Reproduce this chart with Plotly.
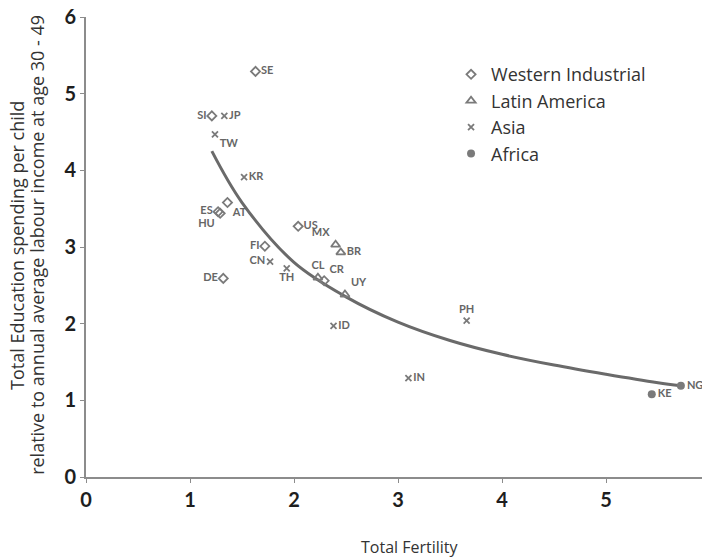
import plotly.graph_objects as go

# ---- data ----
wi_codes = ["SE", "SI", "AT", "ES", "HU", "US", "FI", "DE", "CR"]
wi_x = [1.63, 1.21, 1.36, 1.27, 1.29, 2.04, 1.72, 1.32, 2.29]
wi_y = [5.29, 4.71, 3.58, 3.46, 3.44, 3.27, 3.01, 2.59, 2.56]
wi_pos = ["middle right", "middle left", "bottom right", "middle left", "bottom left",
          "middle right", "middle left", "middle left", "top right"]

la_codes = ["MX", "BR", "CL", "UY"]
la_x = [2.40, 2.45, 2.23, 2.49]
la_y = [3.03, 2.93, 2.60, 2.38]
la_pos = ["top left", "middle right", "top center", "top right"]

as_codes = ["JP", "TW", "KR", "CN", "TH", "ID", "IN", "PH"]
as_x = [1.33, 1.24, 1.52, 1.77, 1.93, 2.38, 3.10, 3.66]
as_y = [4.71, 4.47, 3.91, 2.81, 2.72, 1.97, 1.29, 2.04]
as_pos = ["middle right", "bottom right", "middle right", "middle left", "bottom center",
          "middle right", "middle right", "top center"]

af_codes = ["KE", "NG"]
af_x = [5.44, 5.72]
af_y = [1.08, 1.19]
af_pos = ["middle right", "middle right"]

# trend curve, points
curve_x = [1.21, 1.5, 2.0, 2.5, 3.0, 3.5, 4.0, 4.5, 5.0, 5.5, 5.72]
curve_y = [4.25, 3.58, 2.80, 2.35, 2.02, 1.78, 1.60, 1.46, 1.34, 1.23, 1.19]

x_ticks = [0, 1, 2, 3, 4, 5, 6]
y_ticks = [0, 1, 2, 3, 4, 5, 6]

x_title = "Total Fertility"
y_title_1 = "Total Education spending per child"
y_title_2 = "relative to annual average labour income at age 30 - 49"

MARK = "#7a7a7a"
LBL = "#666666"
lbl_font = dict(family="Lato", size=11, color=LBL, weight="bold")
title_font = dict(family="Open Sans", size=18, color="#333")

fig = go.Figure()
fig.add_trace(go.Scatter(x=curve_x, y=curve_y, mode="lines", line=dict(color="#6a6a6a", width=3, shape="spline"),
                         showlegend=False, hoverinfo="skip"))

fig.add_trace(go.Scatter(x=wi_x, y=wi_y, mode="markers+text", name="Western Industrial",
                         text=wi_codes, textposition=wi_pos, textfont=lbl_font,
                         marker=dict(symbol="diamond-open", size=7, color=MARK, line=dict(width=1.8, color=MARK))))
fig.add_trace(go.Scatter(x=la_x, y=la_y, mode="markers+text", name="Latin America",
                         text=la_codes, textposition=la_pos, textfont=lbl_font,
                         marker=dict(symbol="triangle-up-open", size=8, color=MARK, line=dict(width=1.8, color=MARK))))
fig.add_trace(go.Scatter(x=as_x, y=as_y, mode="markers+text", name="Asia",
                         text=as_codes, textposition=as_pos, textfont=lbl_font,
                         marker=dict(symbol="x-thin-open", size=6, color=MARK, line=dict(width=1.8, color=MARK))))
fig.add_trace(go.Scatter(x=af_x, y=af_y, mode="markers+text", name="Africa",
                         text=af_codes, textposition=af_pos, textfont=lbl_font,
                         marker=dict(symbol="circle", size=8, color=MARK)))

axis_common = dict(showgrid=False, zeroline=False, showline=True, linecolor="#8c8c8c", linewidth=2,
                   ticks="outside", ticklen=4, tickcolor="#8c8c8c", automargin=False,
                   ticklabeloverflow="allow",
                   tickfont=dict(family="Lato", size=20, color="#1e1e1e", weight="bold"))

fig.update_layout(
    width=710, height=560,
    paper_bgcolor="white", plot_bgcolor="white",
    margin=dict(l=78, r=8, t=9, b=91),
    xaxis=dict(range=[0, 6], tickvals=x_ticks, **axis_common),
    yaxis=dict(range=[0, 6], tickvals=y_ticks, **axis_common),
    legend=dict(x=0.585, y=0.915, xanchor="left", yanchor="top", bgcolor="rgba(0,0,0,0)",
                font=dict(family="Open Sans", size=18, color="#333")),
    showlegend=True,
    annotations=[
        dict(text=x_title, xref="paper", yref="paper", x=0.519, y=-0.152, showarrow=False,
             xanchor="center", yanchor="middle", font=dict(family="Open Sans", size=16, color="#333")),
        dict(text=y_title_1, xref="paper", yref="paper", x=-0.111, y=0.504, showarrow=False, textangle=-90,
             xanchor="center", yanchor="middle", font=title_font),
        dict(text=y_title_2, xref="paper", yref="paper", x=-0.079, y=0.504, showarrow=False, textangle=-90,
             xanchor="center", yanchor="middle", font=title_font),
    ],
)

fig.write_html("out.html")
